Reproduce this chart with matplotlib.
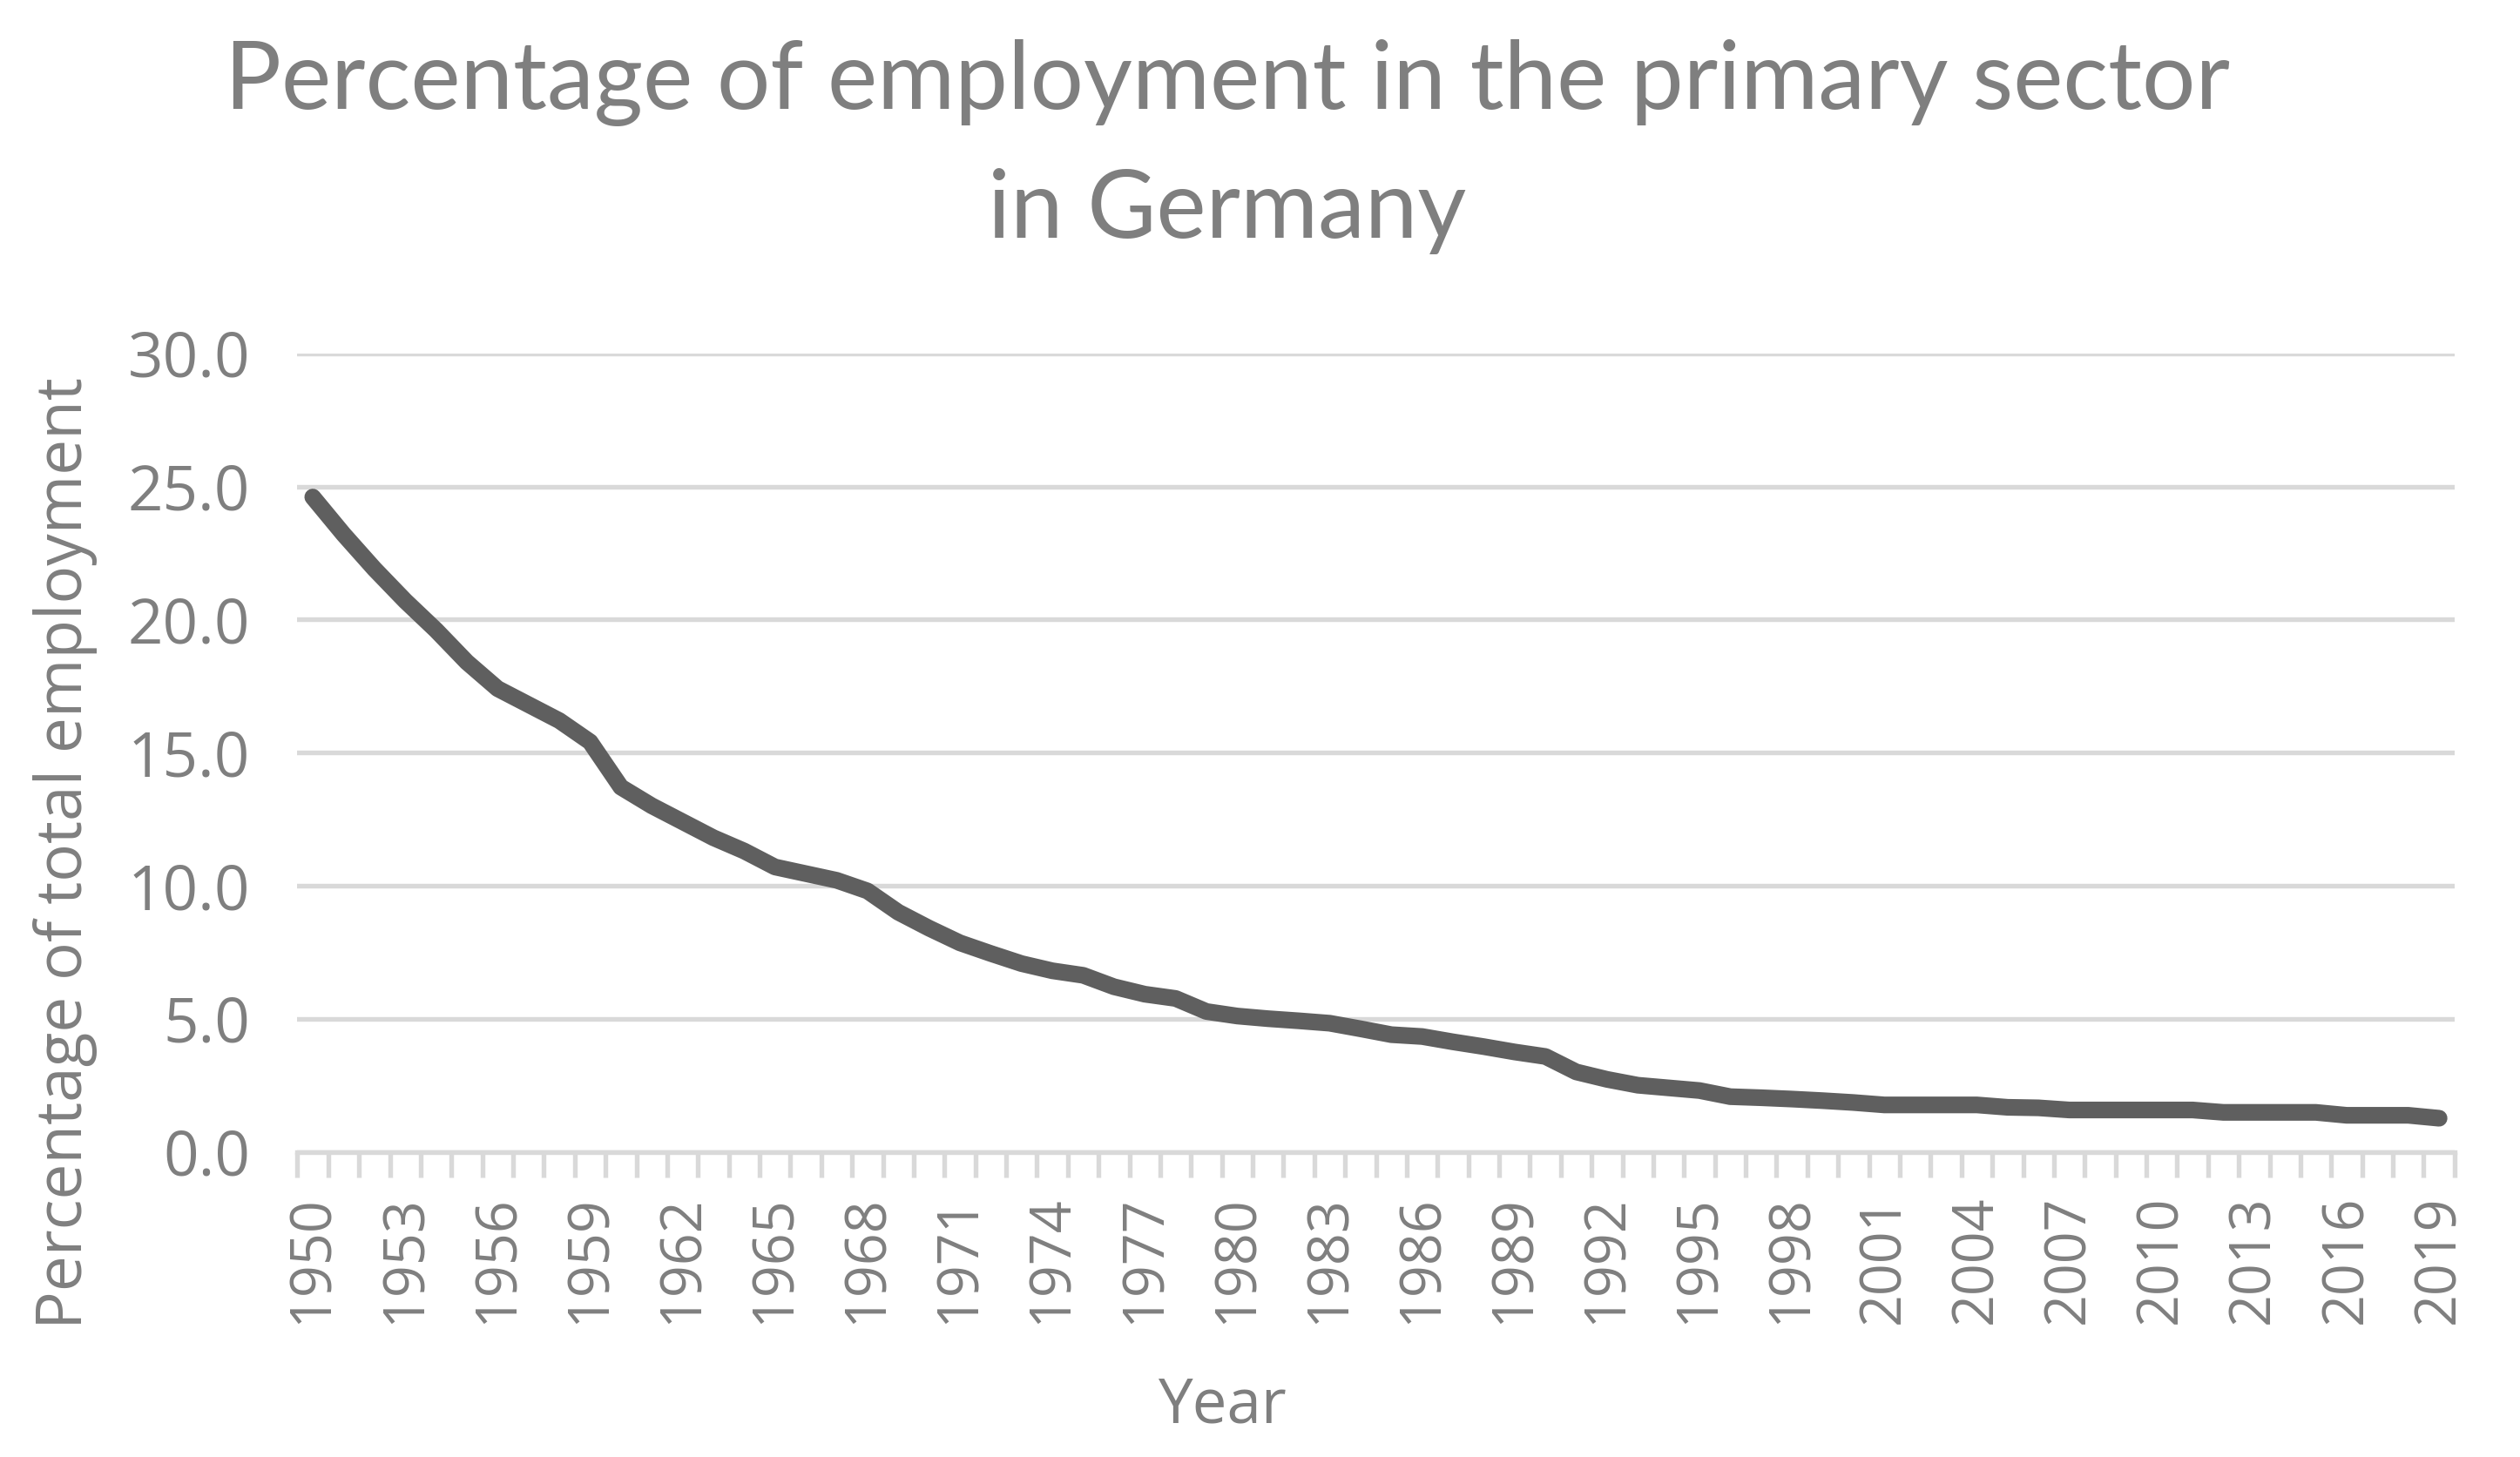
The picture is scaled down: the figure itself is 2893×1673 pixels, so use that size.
import matplotlib.pyplot as plt
from matplotlib.ticker import FixedLocator, NullFormatter

# years on the category axis
years = list(range(1950, 2020))

# share of employment in the primary sector (%)
primary_share = [
    24.6, 23.2, 21.9, 20.7, 19.6, 18.4, 17.4, 16.8, 16.2, 15.4,  # 1950-59
    13.7, 13.0, 12.4, 11.8, 11.3, 10.7, 10.45, 10.2, 9.8, 9.0,   # 1960-69
    8.4, 7.85, 7.45, 7.07, 6.8, 6.63, 6.2, 5.92, 5.76, 5.27,     # 1970-79
    5.1, 5.0, 4.92, 4.83, 4.62, 4.4, 4.33, 4.13, 3.95, 3.75,     # 1980-89
    3.58, 3.0, 2.72, 2.5, 2.4, 2.3, 2.07, 2.03, 1.98, 1.92,      # 1990-99
    1.85, 1.76, 1.76, 1.76, 1.76, 1.67, 1.65, 1.57, 1.57, 1.57,  # 2000-09
    1.57, 1.57, 1.48, 1.48, 1.48, 1.48, 1.37, 1.37, 1.37, 1.26,  # 2010-19
]

y_ticks = [0, 5, 10, 15, 20, 25, 30]

text_col = '#7f7f7f'
grid_col = '#d9d9d9'
line_col = '#5f5f5f'

plt.rcParams['font.family'] = ['Open Sans', 'DejaVu Sans']

fig = plt.figure(figsize=(2893 / 300, 1673 / 300), dpi=300)
ax = fig.add_axes([0.118, 0.2095, 0.856, 0.548])

pos = list(range(len(years)))
ax.plot(pos, primary_share, color=line_col, lw=4.6,
        solid_capstyle='round', solid_joinstyle='round', zorder=3)

ax.set_xlim(-0.5, len(years) - 0.5)
ax.set_ylim(0, 30)

# y axis: labels only, horizontal grid
ax.set_yticks(y_ticks)
ax.set_yticklabels(['{:.1f}'.format(v) for v in y_ticks])
ax.tick_params(axis='y', length=0, pad=13, labelsize=17, labelcolor=text_col)
ax.yaxis.grid(True, color=grid_col, lw=1.3, zorder=0)

# x axis: ticks on category borders, labels every third year
ax.xaxis.set_major_locator(FixedLocator([p - 0.5 for p in range(len(years) + 1)]))
ax.xaxis.set_major_formatter(NullFormatter())
ax.tick_params(axis='x', which='major', length=7, width=1.3, color=grid_col)
lab_pos = pos[::3]
ax.xaxis.set_minor_locator(FixedLocator(lab_pos))
ax.set_xticklabels([str(years[p]) for p in lab_pos], minor=True, rotation=90)
ax.tick_params(axis='x', which='minor', length=0, pad=12, labelsize=15.5,
               labelcolor=text_col)

for s in ['top', 'right', 'left']:
    ax.spines[s].set_visible(False)
ax.spines['bottom'].set_color(grid_col)
ax.spines['bottom'].set_linewidth(1.3)
ax.set_axisbelow(True)

fig.text(0.485, 0.035, 'Year', ha='center', va='center', fontsize=17,
         color=text_col)
fig.text(0.026, 0.4145, 'Percentage of total employment', ha='center',
         va='center', rotation=90, fontsize=17.5, color=text_col)

fig.text(0.487, 0.943, 'Percentage of employment in the primary sector',
         ha='center', va='center', fontsize=26, color=text_col,
         family=['Lato', 'DejaVu Sans'])
fig.text(0.487, 0.855, 'in Germany', ha='center', va='center', fontsize=26,
         color=text_col, family=['Lato', 'DejaVu Sans'])

plt.savefig('out.png', dpi=300)
